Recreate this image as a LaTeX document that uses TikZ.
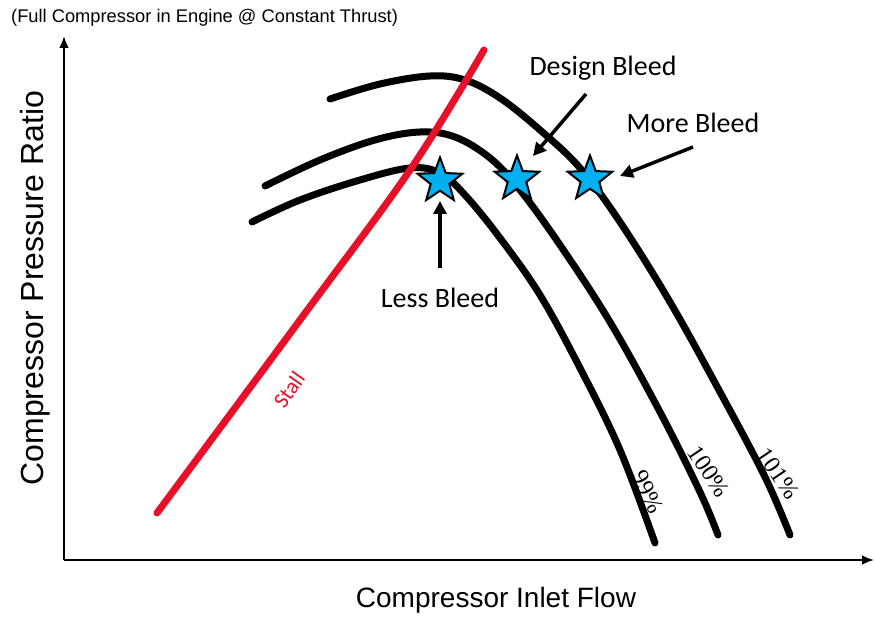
\documentclass[tikz,border=0pt]{standalone}
\usepackage{fontspec}
\setmainfont{Liberation Sans}
\newfontfamily\calib{Carlito}
\newfontfamily\serifpc{Liberation Serif}
\usetikzlibrary{shapes.geometric,arrows.meta}
\definecolor{starblue}{RGB}{0,176,240}
\definecolor{stallred}{RGB}{232,16,40}
\tikzset{
  speedline/.style={line width=7pt,line cap=round,black},
  stallline/.style={line width=7pt,line cap=round,stallred},
  axisline/.style={line width=2.4pt,-{Latex[length=12pt,width=10pt]}},
  bleedarrow/.style={line width=3.5pt,-{Triangle[length=13pt,width=13pt]}},
  bleedstar/.style={star,star points=5,star point ratio=2.4,minimum size=47pt,inner sep=0pt,fill=starblue,draw=black,line width=2pt},
  bleedlabel/.style={font=\calib\fontsize{28}{31}\selectfont,inner sep=0pt},
  pclabel/.style={font=\serifpc\fontsize{24}{27}\selectfont,inner sep=0pt},
  axislabel/.style={font=\fontsize{28}{31}\selectfont,inner sep=0pt}
}
\begin{document}
\begin{tikzpicture}[x=1pt,y=-1pt]
\useasboundingbox[fill=white] (0,0) rectangle (875,617);
% axes
\coordinate (origin) at (64,560);
\coordinate (ytop) at (64,36);
\coordinate (xend) at (874,560);
\draw[axisline] (origin) -- (ytop);
\draw[axisline] (origin) -- (xend);
% speed lines
\draw[speedline] plot[smooth,tension=0.6] coordinates {(252,222) (300,200) (360,180) (410,168) (440,173) (465,195) (500,238) (540,295) (580,368) (620,450) (655,543)};
\draw[speedline] plot[smooth,tension=0.6] coordinates {(265,186) (320,160) (375,140) (420,132) (455,137) (490,158) (520,190) (560,245) (610,322) (660,412) (700,492) (718,535)};
\draw[speedline] plot[smooth,tension=0.6] coordinates {(330,99) (380,84) (430,76) (465,80) (500,98) (540,130) (580,168) (620,222) (670,302) (720,392) (765,477) (790,535)};
% stall line
\draw[stallline] plot[smooth,tension=0.6] coordinates {(157,513) (300,320) (410,170) (484,50)};
\node[font=\calib\fontsize{22}{24}\selectfont,text=stallred,rotate=55,inner sep=0pt] (stall) at (289,390) {Stall};
% stars
\node[bleedstar] (s1) at (440,181) {};
\node[bleedstar] (s2) at (517,179) {};
\node[bleedstar] (s3) at (590,179) {};
% bleed labels
\node[bleedlabel] (design) at (603,68) {Design Bleed};
\node[bleedlabel] (more) at (693,123) {More Bleed};
\node[bleedlabel] (less) at (440,298) {Less Bleed};
\coordinate (dtail) at (586,94);
\coordinate (dtip) at (533,156);
\coordinate (mtail) at (693,147);
\coordinate (mtip) at (620,176);
\coordinate (ltail) at (440,268);
\coordinate (ltip) at (440,201);
\draw[bleedarrow] (dtail) -- (dtip);
\draw[bleedarrow] (mtail) -- (mtip);
\draw[bleedarrow] (ltail) -- (ltip);
% percent labels
\node[pclabel,rotate=-63] (p99) at (648,492) {99\%};
\node[pclabel,rotate=-56] (p100) at (709,471) {100\%};
\node[pclabel,rotate=-56] (p101) at (778,473) {101\%};
% axis labels
\node[font=\fontsize{32}{35}\selectfont,inner sep=0pt,rotate=90] (ylab) at (35,288) {Compressor Pressure Ratio};
\node[axislabel] (xlab) at (496,600) {Compressor Inlet Flow};
\node[font=\fontsize{18.3}{21}\selectfont,inner sep=0pt,anchor=west] (title) at (11,18) {(Full Compressor in Engine @ Constant Thrust)};
\end{tikzpicture}
\end{document}
